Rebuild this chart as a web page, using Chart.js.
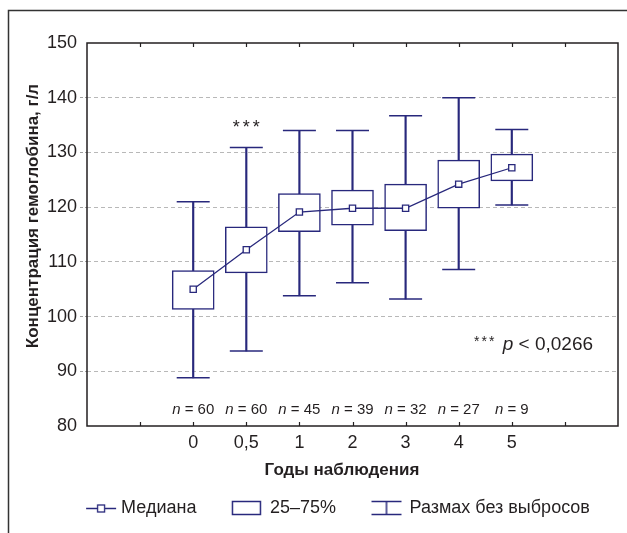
<!DOCTYPE html>
<html>
<head>
<meta charset="utf-8">
<script src="https://cdn.jsdelivr.net/npm/chart.js@4.4.1/dist/chart.umd.min.js"></script>
<style>
html,body{margin:0;padding:0;background:#fff;}
#wrap{width:627px;height:533px;position:relative;}
</style>
</head>
<body>
<div id="wrap"><canvas id="c" width="627" height="533"></canvas></div>
<script>
// ---- data ----
const categories = ['0', '0,5', '1', '2', '3', '4', '5'];
const medians     = [105.0, 112.2, 119.1, 119.8, 119.8, 124.2, 127.2];
const q1          = [101.3, 108.0, 115.5, 116.7, 115.7, 119.8, 124.8];
const q3          = [108.4, 116.4, 122.5, 123.1, 124.2, 128.6, 129.7];
const whiskerLow  = [88.8, 93.7, 103.8, 106.2, 103.2, 108.6, 120.4];
const whiskerHigh = [121.0, 130.9, 134.0, 134.0, 136.7, 140.0, 134.2];
const nValues     = [60, 60, 45, 39, 32, 27, 9];
const yMin = 80, yMax = 150, yStep = 10;
const legendLabels = ['Медиана', '25–75%', 'Размах без выбросов'];
const yTitle = 'Концентрация гемоглобина, г/л';
const xTitle = 'Годы наблюдения';
const significantIndex = 1;
const pNote = '0,0266';

const NAVY = '#28287c';
const INK = '#231f20';
const FONT = "'Liberation Sans', Arial, Helvetica, sans-serif";

// ---- legend icons ----
function makeIcon(kind) {
  const c = document.createElement('canvas');
  c.width = 62; c.height = 20;
  const g = c.getContext('2d');
  g.strokeStyle = NAVY; g.lineWidth = 1.5;
  const cy = 10;
  if (kind === 'median') {
    g.beginPath(); g.moveTo(25, cy + 0.5); g.lineTo(55, cy + 0.5); g.stroke();
    g.fillStyle = '#fff';
    g.fillRect(36.5, cy - 3, 7, 7);
    g.lineWidth = 1.3;
    g.strokeRect(36.5, cy - 3, 7, 7);
  } else if (kind === 'box') {
    g.strokeRect(22.5, cy - 6.5, 28, 13);
  } else {
    g.beginPath();
    g.moveTo(22, cy - 6.5); g.lineTo(52, cy - 6.5);
    g.moveTo(22, cy + 6.5); g.lineTo(52, cy + 6.5);
    g.moveTo(37, cy - 6.5); g.lineTo(37, cy + 6.5);
    g.stroke();
  }
  return c;
}
const icons = [makeIcon('median'), makeIcon('box'), makeIcon('whisker')];

// ---- helper plugin: frames, inner ticks, annotations, axis titles ----
const decor = {
  id: 'decor',
  beforeDraw(chart) {
    const ctx = chart.ctx;
    ctx.save();
    ctx.fillStyle = '#fff';
    ctx.fillRect(0, 0, chart.width, chart.height);
    ctx.strokeStyle = '#333';
    ctx.lineWidth = 1.5;
    ctx.beginPath();
    ctx.moveTo(8.5, chart.height + 2); ctx.lineTo(8.5, 10.5); ctx.lineTo(chart.width + 2, 10.5);
    ctx.stroke();
    ctx.restore();
  },
  afterDraw(chart) {
    const ctx = chart.ctx;
    const a = chart.chartArea;
    const xs = chart.scales.x, ys = chart.scales.y;
    ctx.save();
    // plot frame
    ctx.strokeStyle = INK;
    ctx.lineWidth = 1.5;
    ctx.strokeRect(a.left, a.top, a.right - a.left, a.bottom - a.top);
    // inner ticks
    ctx.lineWidth = 1.2;
    ctx.beginPath();
    for (let v = xs.min + 1; v < xs.max; v++) {
      const px = Math.round(xs.getPixelForValue(v)) + 0.5;
      ctx.moveTo(px, a.bottom); ctx.lineTo(px, a.bottom - 4);
      ctx.moveTo(px, a.top); ctx.lineTo(px, a.top + 4);
    }
    ctx.stroke();

    ctx.fillStyle = INK;
    // n labels
    const nY = ys.getPixelForValue(82.2);
    nValues.forEach((n, i) => {
      const cx = xs.getPixelForValue(i);
      ctx.font = 'italic 15px ' + FONT;
      const w1 = ctx.measureText('n').width;
      ctx.font = '15px ' + FONT;
      const rest = ' = ' + n;
      const w2 = ctx.measureText(rest).width;
      const left = cx - (w1 + w2) / 2;
      ctx.textAlign = 'left'; ctx.textBaseline = 'alphabetic';
      ctx.font = 'italic 15px ' + FONT;
      ctx.fillText('n', left, nY);
      ctx.font = '15px ' + FONT;
      ctx.fillText(rest, left + w1, nY);
    });

    // significance stars
    ctx.font = '18px ' + FONT;
    ctx.textAlign = 'center';
    const sx = xs.getPixelForValue(significantIndex);
    const sy = ys.getPixelForValue(133.6);
    [-10, 0, 10].forEach(d => ctx.fillText('*', sx + d, sy));

    // p note
    const pyB = ys.getPixelForValue(93.9);
    const pRight = xs.getPixelForValue(7.53);
    ctx.font = '19px ' + FONT;
    const restP = ' < ' + pNote;
    const wr = ctx.measureText(restP).width;
    ctx.font = 'italic 19px ' + FONT;
    const wp = ctx.measureText('p').width;
    ctx.textAlign = 'left';
    const pLeft = pRight - wr - wp;
    ctx.fillText('p', pLeft, pyB);
    ctx.font = '19px ' + FONT;
    ctx.fillText(restP, pLeft + wp, pyB);
    ctx.font = '14px ' + FONT;
    ctx.textAlign = 'center';
    [-26, -18.5, -11].forEach(d => ctx.fillText('*', pLeft + d, pyB - 3.5));

    // axis titles
    ctx.font = 'bold 17px ' + FONT;
    ctx.textAlign = 'center';
    ctx.textBaseline = 'alphabetic';
    ctx.fillText(xTitle, 342, 475);
    ctx.save();
    ctx.translate(37.5, 216);
    ctx.rotate(-Math.PI / 2);
    ctx.fillText(yTitle, 0, 0);
    ctx.restore();
    ctx.restore();
  }
};

const PAD_BOTTOM = 6;

new Chart(document.getElementById('c'), {
  type: 'bar',
  plugins: [decor],
  data: {
    datasets: [
      {
        type: 'line',
        label: legendLabels[0],
        data: medians.map((v, i) => ({ x: i, y: v })),
        borderColor: NAVY,
        borderWidth: 1.3,
        tension: 0,
        fill: false,
        pointStyle: 'rect',
        pointRadius: 4.4,
        pointBackgroundColor: '#fff',
        pointBorderColor: NAVY,
        pointBorderWidth: 1.3,
        order: 0
      },
      {
        type: 'line',
        label: 'caps',
        data: whiskerLow.map((v, i) => ({ x: i, y: v })).concat(whiskerHigh.map((v, i) => ({ x: i, y: v }))),
        showLine: false,
        pointStyle: 'line',
        pointRadius: 16.5,
        pointBorderColor: NAVY,
        pointBorderWidth: 1.5,
        order: 1
      },
      {
        type: 'bar',
        label: legendLabels[1],
        data: q1.map((v, i) => ({ x: i, y: [v, q3[i]] })),
        backgroundColor: '#fff',
        borderColor: NAVY,
        borderWidth: 1.5,
        borderSkipped: false,
        barThickness: 42,
        grouped: false,
        order: 2
      },
      {
        type: 'bar',
        label: legendLabels[2],
        data: whiskerLow.map((v, i) => ({ x: i, y: [v, whiskerHigh[i]] })),
        backgroundColor: NAVY,
        borderWidth: 0,
        barThickness: 1.5,
        grouped: false,
        order: 3
      }
    ]
  },
  options: {
    responsive: false,
    animation: false,
    events: [],
    layout: { autoPadding: false, padding: { left: 44, right: 9, top: 43, bottom: PAD_BOTTOM } },
    plugins: {
      tooltip: { enabled: false },
      legend: {
        display: true,
        position: 'bottom',
        align: 'center',
        labels: {
          usePointStyle: true,
          boxWidth: 40,
          pointStyleWidth: 40,
          padding: 24.5,
          color: INK,
          font: { family: FONT, size: 18 },
          generateLabels: () => legendLabels.map((t, i) => ({
            text: t,
            pointStyle: icons[i],
            fillStyle: 'transparent',
            strokeStyle: 'transparent',
            lineWidth: 0,
            hidden: false,
            fontColor: INK,
            datasetIndex: i
          }))
        }
      }
    },
    scales: {
      x: {
        type: 'linear',
        min: -2,
        max: 8,
        offset: false,
        grid: { display: false, drawTicks: false },
        border: { display: false },
        ticks: {
          stepSize: 1,
          autoSkip: false,
          maxRotation: 0,
          padding: 6,
          color: INK,
          font: { family: FONT, size: 18 },
          callback: (v) => (Number.isInteger(v) && v >= 0 && v < categories.length) ? categories[v] : ''
        },
        afterFit: (s) => {
          const lh = s.chart.legend ? s.chart.legend.height : 0;
          s.height = (s.chart.height - PAD_BOTTOM - lh) - 426;
        }
      },
      y: {
        type: 'linear',
        min: yMin,
        max: yMax,
        grid: {
          color: (c) => (c.tick && (c.tick.value === yMin || c.tick.value === yMax)) ? 'rgba(0,0,0,0)' : '#b8b8b8',
          tickColor: (c) => (c.tick && (c.tick.value === yMin || c.tick.value === yMax)) ? 'rgba(0,0,0,0)' : '#a0a0a0',
          lineWidth: 1,
          tickLength: 7,
          tickBorderDash: [3, 2]
        },
        border: { display: false, dash: [4, 3] },
        ticks: {
          stepSize: yStep,
          padding: 3,
          color: INK,
          font: { family: FONT, size: 18 }
        },
        afterFit: (s) => { s.width = 43; }
      }
    }
  }
});
</script>
</body>
</html>
